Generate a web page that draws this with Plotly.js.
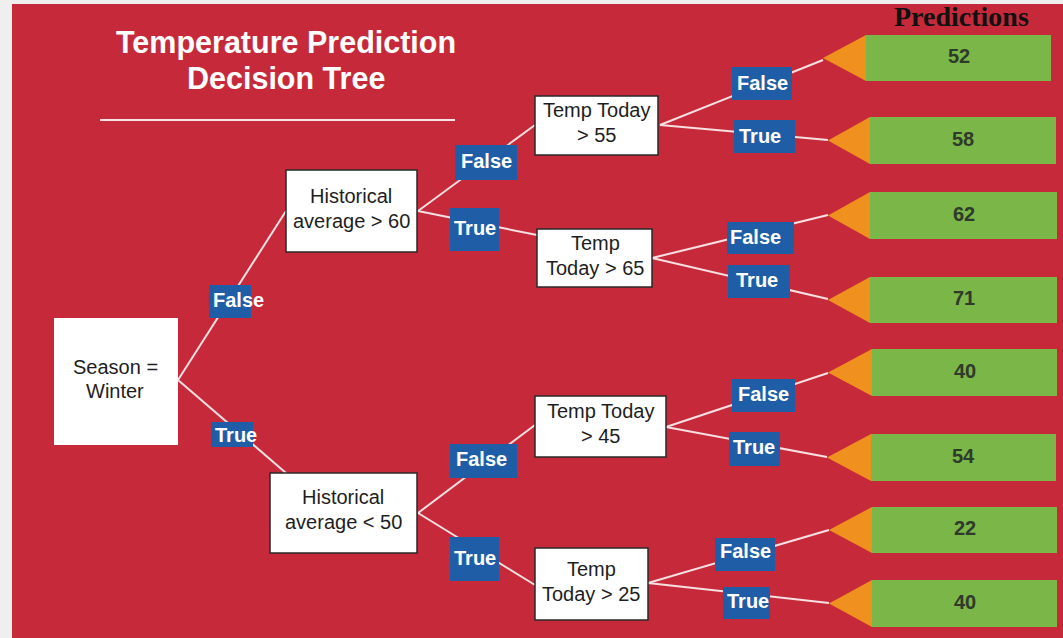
<!DOCTYPE html>
<html>
<head>
<meta charset="utf-8">
<script src="https://cdn.plot.ly/plotly-3.0.1.min.js"></script>
<style>html,body{margin:0;padding:0;background:#efefef;}#chart{width:1063px;height:638px;}</style>
</head>
<body>
<div id="chart"></div>
<script>
// ---- DATA ----
const titleLines = ["Temperature Prediction", "Decision Tree"];
const predictionsHeader = "Predictions";
const nodeLabels = [
  ["Season =", "Winter"],
  ["Historical", "average > 60"],
  ["Historical", "average < 50"],
  ["Temp Today", "> 55"],
  ["Temp", "Today > 65"],
  ["Temp Today", "> 45"],
  ["Temp", "Today > 25"]
];
const edgeLabels = ["False", "True", "False", "True", "False", "True", "False", "True",
                    "False", "True", "False", "True", "False", "True"];
const predictions = [52, 58, 62, 71, 40, 54, 22, 40];

// ---- LAYOUT GEOMETRY (pixel space of the diagram) ----
const nodeBoxes = [
  [54, 318, 178, 445],
  [286, 170, 417, 252],
  [270, 473, 417, 553],
  [535, 96, 658, 155],
  [537, 229, 652, 287],
  [535, 396, 666, 457],
  [535, 548, 648, 620]
];
const nodeOutline = [false, true, true, true, true, true, true];
const nodeTextCenters = [[115, 367, 391], [351, 196, 221], [343, 497, 522], [596, 110, 135],
                         [595, 243, 268], [600, 411, 436], [591, 569, 594]];
// edges: [x0,y0,x1,y1]
const edgeLines = [
  [178, 380, 286, 211], [178, 380, 286, 473],
  [418, 211, 535, 125], [418, 211, 537, 235],
  [418, 513, 535, 425], [418, 513, 535, 585],
  [660, 125, 823, 60], [660, 125, 828, 140],
  [652, 258, 828, 215], [652, 258, 828, 299],
  [666, 427, 828, 373], [666, 427, 827, 457],
  [648, 583, 829, 530], [648, 583, 829, 603]
];
const edgeBoxes = [
  [209, 285, 251, 318], [211, 422, 253, 447],
  [455, 145, 517, 180], [450, 208, 499, 251],
  [450, 444, 517, 478], [450, 537, 499, 581],
  [732, 67, 792, 100], [734, 120, 795, 153],
  [727, 222, 794, 254], [728, 265, 790, 298],
  [732, 379, 795, 412], [729, 432, 780, 466],
  [715, 538, 775, 571], [723, 587, 770, 619]
];
const edgeTextCenters = [[238, 300], [236, 435], [486, 161], [475, 228], [481, 459], [475, 558],
                         [762, 83], [760, 136], [755, 237], [757, 280], [763, 394], [754, 447],
                         [745, 551], [748, 601]];
const leafBoxes = [
  [823, 866, 1051, 35, 81], [828, 870, 1056, 117, 164],
  [828, 870, 1057, 192, 239], [828, 870, 1057, 277, 323],
  [828, 872, 1057, 349, 396], [827, 871, 1056, 434, 481],
  [829, 872, 1057, 507, 553], [829, 872, 1057, 580, 627]
];

const RED = "#c62a3a", BLUE = "#1f5ea6", GREEN = "#7ab648", ORANGE = "#f0901f";
const shapes = [];
const annotations = [];

// background
shapes.push({type: "rect", xref: "x", yref: "y", x0: 12, y0: 4, x1: 1063, y1: 638,
  fillcolor: RED, line: {width: 0}, layer: "below"});
// title underline
shapes.push({type: "line", xref: "x", yref: "y", x0: 100, y0: 120, x1: 455, y1: 120,
  line: {color: "#f6e3e5", width: 2}});

// edges
edgeLines.forEach(e => shapes.push({type: "line", xref: "x", yref: "y",
  x0: e[0], y0: e[1], x1: e[2], y1: e[3], line: {color: "#f7dfe2", width: 2}}));

// node boxes
nodeBoxes.forEach((b, i) => shapes.push({type: "rect", xref: "x", yref: "y",
  x0: b[0], y0: b[1], x1: b[2], y1: b[3], fillcolor: "#ffffff",
  line: {color: nodeOutline[i] ? "#2a2a2a" : "#ffffff", width: nodeOutline[i] ? 1.5 : 0}}));

// edge label boxes
edgeBoxes.forEach(b => shapes.push({type: "rect", xref: "x", yref: "y",
  x0: b[0], y0: b[1], x1: b[2], y1: b[3], fillcolor: BLUE, line: {width: 0}}));

// leaves
leafBoxes.forEach(l => {
  const mid = (l[3] + l[4]) / 2;
  shapes.push({type: "path", xref: "x", yref: "y",
    path: `M ${l[0]},${mid} L ${l[1]},${l[3]} L ${l[1]},${l[4]} Z`,
    fillcolor: ORANGE, line: {width: 0}});
  shapes.push({type: "rect", xref: "x", yref: "y", x0: l[1], y0: l[3], x1: l[2], y1: l[4],
    fillcolor: GREEN, line: {width: 0}});
});

// text: title
const titleFont = {family: "Liberation Sans, Arial, sans-serif", size: 30.5, color: "#ffffff"};
[42, 78].forEach((y, i) => annotations.push({x: 286, y: y, xref: "x", yref: "y",
  text: "<b>" + titleLines[i] + "</b>", showarrow: false, xanchor: "center", yanchor: "middle", font: titleFont}));
annotations.push({x: 961, y: 16, xref: "x", yref: "y", text: "<b>" + predictionsHeader + "</b>",
  showarrow: false, xanchor: "center", yanchor: "middle",
  font: {family: "Liberation Serif, DejaVu Serif, serif", size: 28, color: "#111111"}});

// node texts
nodeLabels.forEach((lines, i) => {
  const c = nodeTextCenters[i];
  lines.forEach((t, j) => annotations.push({x: c[0], y: c[1 + j], xref: "x", yref: "y", text: t,
    showarrow: false, xanchor: "center", yanchor: "middle",
    font: {family: "Liberation Sans, Arial, sans-serif", size: 20, color: "#1e1e1e"}}));
});

// edge label texts
edgeLabels.forEach((t, i) => {
  const c = edgeTextCenters[i];
  annotations.push({x: c[0], y: c[1], xref: "x", yref: "y", text: "<b>" + t + "</b>",
    showarrow: false, xanchor: "center", yanchor: "middle",
    font: {family: "Liberation Sans, Arial, sans-serif", size: 20, color: "#ffffff"}});
});

// prediction texts
predictions.forEach((v, i) => {
  const l = leafBoxes[i];
  annotations.push({x: (l[1] + l[2]) / 2, y: (l[3] + l[4]) / 2 - 2, xref: "x", yref: "y",
    text: "<b>" + v + "</b>", showarrow: false, xanchor: "center", yanchor: "middle",
    font: {family: "Liberation Sans, Arial, sans-serif", size: 20, color: "#2f3a2a"}});
});

const layout = {
  width: 1063, height: 638,
  margin: {l: 0, r: 0, t: 0, b: 0, pad: 0},
  paper_bgcolor: "#efefef", plot_bgcolor: "#efefef",
  xaxis: {range: [0, 1063], visible: false, fixedrange: true},
  yaxis: {range: [638, 0], visible: false, fixedrange: true},
  showlegend: false,
  shapes: shapes,
  annotations: annotations
};

Plotly.newPlot("chart", [{x: [], y: [], type: "scatter", mode: "markers", hoverinfo: "skip"}], layout,
  {displayModeBar: false, staticPlot: true});
</script>
</body>
</html>
